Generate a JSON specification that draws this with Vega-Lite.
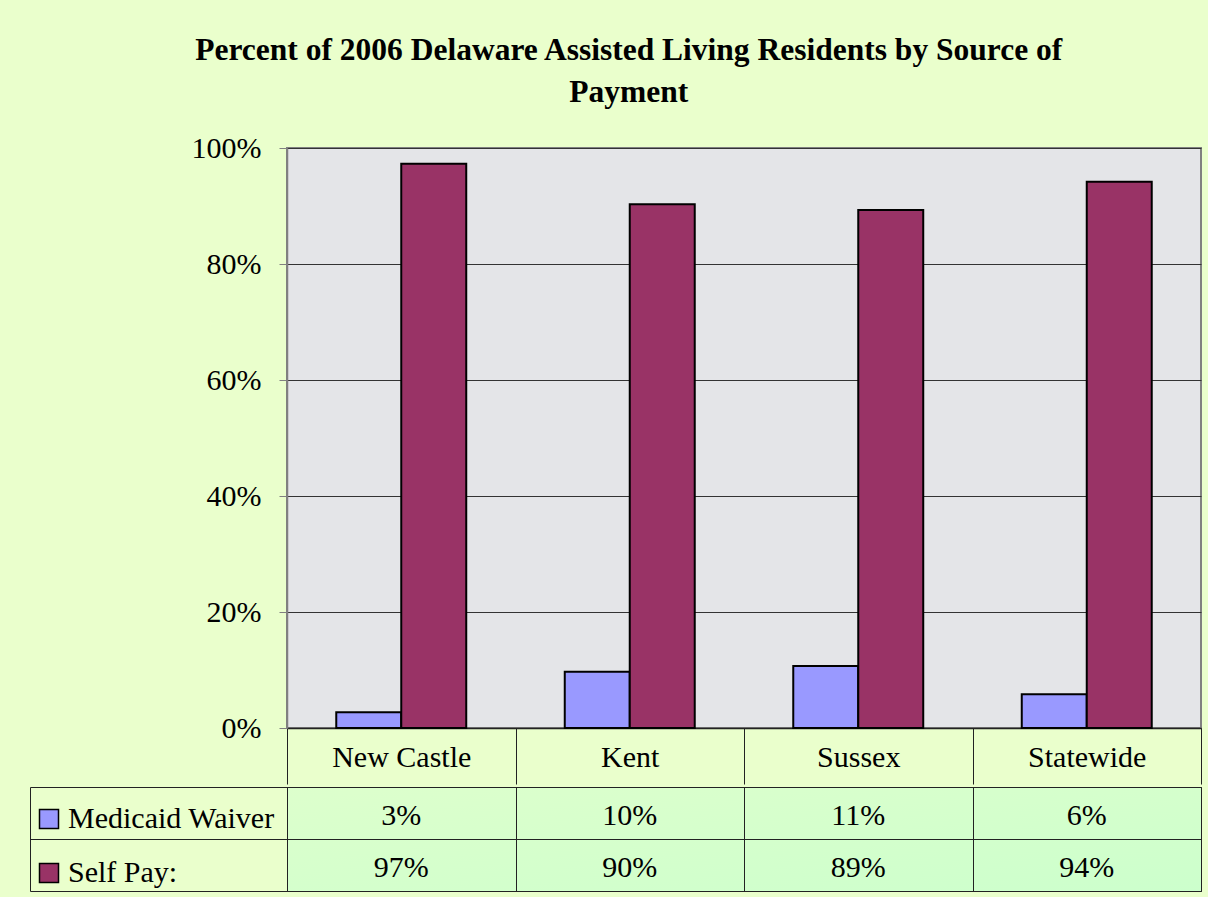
{
  "$schema": "https://vega.github.io/schema/vega-lite/v6.json",
  "background": "#EAFFCC",
  "padding": {"left": 29, "top": 34, "right": 5, "bottom": 5},
  "title": {
    "text": ["Percent of 2006 Delaware Assisted Living Residents by Source of", "Payment"],
    "font": "Liberation Serif",
    "fontSize": 31.5,
    "fontWeight": "bold",
    "color": "black",
    "lineHeight": 42,
    "anchor": "middle",
    "offset": 24,
    "dx": 13
  },
  "datasets": {
    "rows": [
      {"area": "New Castle", "source": "Medicaid Waiver", "share": 0.027},
      {"area": "New Castle", "source": "Self Pay:", "share": 0.973},
      {"area": "Kent", "source": "Medicaid Waiver", "share": 0.097},
      {"area": "Kent", "source": "Self Pay:", "share": 0.903},
      {"area": "Sussex", "source": "Medicaid Waiver", "share": 0.107},
      {"area": "Sussex", "source": "Self Pay:", "share": 0.893},
      {"area": "Statewide", "source": "Medicaid Waiver", "share": 0.058},
      {"area": "Statewide", "source": "Self Pay:", "share": 0.942}
    ]
  },
  "data": {"name": "rows"},
  "spacing": 0,
  "vconcat": [
    {
      "width": 914,
      "height": 580,
      "view": {"fill": "#E4E5E8", "stroke": "#808080", "strokeWidth": 2},
      "mark": {"type": "bar", "stroke": "black", "strokeWidth": 2},
      "encoding": {
        "x": {
          "field": "area", "type": "nominal",
          "sort": ["New Castle", "Kent", "Sussex", "Statewide"],
          "scale": {"paddingInner": 0, "paddingOuter": 0},
          "axis": {
            "title": null, "labelAngle": 0, "tickBand": "extent", "tickSize": 56,
            "tickColor": "#222222", "tickWidth": 1, "domainColor": "#222222", "domainWidth": 1.5,
            "labelFont": "Liberation Serif", "labelFontSize": 30, "labelColor": "black",
            "labelBaseline": "middle", "labelPadding": -27
          }
        },
        "xOffset": {
          "field": "source", "type": "nominal",
          "sort": ["Medicaid Waiver", "Self Pay:"],
          "scale": {"paddingInner": 0, "paddingOuter": 0.758}
        },
        "y": {
          "field": "share", "type": "quantitative",
          "scale": {"domain": [0, 1]},
          "axis": {
            "title": null, "values": [0, 0.2, 0.4, 0.6, 0.8, 1], "format": ".0%",
            "grid": true, "gridColor": "#333333", "gridWidth": 1,
            "tickSize": 8, "tickColor": "#808080", "domainColor": "#808080", "domainWidth": 1.5,
            "labelPadding": 18, "labelFont": "Liberation Serif", "labelFontSize": 30, "labelColor": "black"
          }
        },
        "color": {
          "field": "source", "type": "nominal",
          "sort": ["Medicaid Waiver", "Self Pay:"],
          "scale": {"range": ["#9999FF", "#993366"]},
          "legend": {
            "title": null, "orient": "none", "legendX": -253, "legendY": 656,
            "direction": "vertical", "symbolType": "square", "symbolSize": 361,
            "symbolStrokeColor": "black", "symbolStrokeWidth": 1.5, "symbolOpacity": 1,
            "labelFont": "Liberation Serif", "labelFontSize": 30, "labelColor": "black",
            "labelOffset": 4, "labelLimit": 400, "rowPadding": 24, "padding": 0
          }
        }
      }
    },
    {
      "width": 914,
      "height": 104,
      "view": {
        "fill": {"gradient": "linear", "x1": 0, "y1": 0, "x2": 1, "y2": 1, "stops": [{"offset": 0, "color": "#DDFFCC"}, {"offset": 1, "color": "#CCFFCC"}]},
        "stroke": "#222222", "strokeWidth": 1
      },
      "mark": {"type": "text", "font": "Liberation Serif", "fontSize": 30, "color": "black", "dy": 3},
      "encoding": {
        "x": {
          "field": "area", "type": "nominal",
          "sort": ["New Castle", "Kent", "Sussex", "Statewide"],
          "scale": {"paddingInner": 0, "paddingOuter": 0},
          "axis": {"title": null, "labels": false, "ticks": false, "domain": false, "grid": true, "tickBand": "extent", "gridColor": "#222222", "gridWidth": 1}
        },
        "y": {
          "field": "source", "type": "nominal",
          "sort": ["Medicaid Waiver", "Self Pay:"],
          "scale": {"paddingInner": 0, "paddingOuter": 0},
          "axis": {
            "title": null, "labels": false, "grid": true, "tickBand": "extent", "gridColor": "#222222", "gridWidth": 1,
            "offset": 257, "tickSize": -257, "tickColor": "#222222", "tickWidth": 1, "domainColor": "#222222", "domainWidth": 1
          }
        },
        "text": {"field": "share", "type": "quantitative", "format": ".0%"}
      }
    }
  ],
  "config": {
    "font": "Liberation Serif",
    "legend": {"labelFont": "Liberation Serif", "labelFontSize": 30, "labelColor": "black"}
  }
}
